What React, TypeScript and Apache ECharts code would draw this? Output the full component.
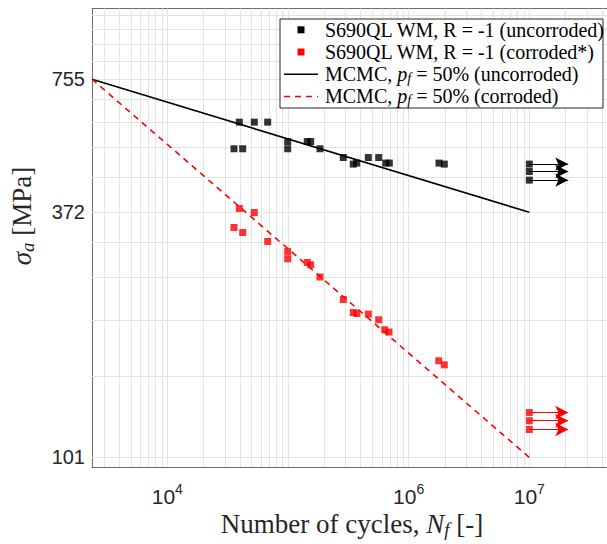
import React, { useEffect, useRef } from "react";
import * as echarts from "echarts";

// ---- data ----
const uncorrodedN = [35700, 39500, 42150, 52600, 67900, 99500, 99500, 144500, 154200, 184200, 287400, 347800, 371200, 463200, 564800, 645700, 691500, 1785000, 1975000];
const uncorrodedS = [521.6, 601, 521.6, 601, 601, 542, 521.6, 542, 542, 521.6, 497.9, 480.8, 483.4, 497.9, 497.9, 483.4, 483.4, 483.4, 480.8];
const corrodedN = [35700, 39500, 42150, 52600, 67900, 99500, 99500, 144500, 154200, 184200, 287400, 347800, 371200, 463200, 564800, 633300, 687600, 1775000, 1975000];
const corrodedS = [343.2, 379.7, 334.2, 371.7, 318.6, 302.1, 290.6, 284.9, 281.4, 263.7, 234, 218.3, 217.2, 216.5, 210.1, 199.2, 196.8, 168.9, 165.3];
const runoutN = 10000000;
const uncorrodedRunoutS = [480.8, 462.2, 441.5];
const corrodedRunoutS = [128.3, 122.8, 117.2];
const runoutArrowEndN = 21000000;
const mcmcN = [2377, 10000000];
const mcmcUncorrodedS = [755, 372];
const mcmcCorrodedS = [755, 101];

// ---- axes ----
const xMin = 2377;
const xMax = 44040000;
const yMin = 96;
const yMax = 1100;
const xTickLabels = [10000, 1000000, 10000000];
const xGridValues = [
  3000, 4000, 5000, 6000, 7000, 8000, 9000,
  10000, 20000, 30000, 40000, 50000, 60000, 70000, 80000, 90000,
  100000, 200000, 300000, 400000, 500000, 600000, 700000, 800000, 900000,
  1000000, 2000000, 3000000, 4000000, 5000000, 6000000, 7000000, 8000000, 9000000,
  10000000, 20000000, 30000000, 40000000,
];
const yTickLabels = [101, 372, 755];
const yGridValues = [101, 155.2, 209.4, 263.6, 317.8, 372, 448.6, 525.2, 601.8, 678.4, 755, 831.6, 908.2, 984.8, 1061.4];

const legendItems = [
  { kind: "square", color: "#000000", text: "S690QL WM, R = -1 (uncorroded)" },
  { kind: "square", color: "#ff0000", text: "S690QL WM, R = -1 (corroded*)" },
  { kind: "solid", color: "#000000", text: "MCMC, {i|p}{sub|f} = 50% (uncorroded)" },
  { kind: "dashed", color: "#ff0000", text: "MCMC, {i|p}{sub|f} = 50% (corroded)" },
];

const SERIF = "'Liberation Serif', 'DejaVu Serif', serif";
const SANS = "'Liberation Sans', Arial, Helvetica, sans-serif";

export default function App() {
  const ref = useRef<HTMLDivElement>(null);

  useEffect(() => {
    if (!ref.current) return;
    const chart = echarts.init(ref.current, null, { renderer: "svg" });
    const axisColor = "#6b6b6b";
    const gridColor = "#e3e3e3";
    const labelColor = "#262626";

    const xBase: any = {
      type: "log",
      logBase: 10,
      min: xMin,
      max: xMax,
      axisLine: { show: true, onZero: false, lineStyle: { color: axisColor, width: 1 } },
      splitLine: { show: false },
      minorTick: { show: false },
      minorSplitLine: { show: false },
    };
    const yBase: any = {
      type: "log",
      logBase: 10,
      min: yMin,
      max: yMax,
      axisLine: { show: true, onZero: false, lineStyle: { color: axisColor, width: 1 } },
      splitLine: { show: false },
      minorTick: { show: false },
      minorSplitLine: { show: false },
    };

    const LFS = 20;
    const legendX = 280;
    const legendY = 19;
    const rowY = [29.8, 52, 74.2, 96.4];
    const legendGraphics: any[] = [
      {
        type: "rect",
        shape: { x: legendX, y: legendY, width: 323, height: 89 },
        style: { fill: "#ffffff", stroke: "#262626", lineWidth: 1 },
        z: 100,
      },
    ];
    legendItems.forEach((it, i) => {
      const y = rowY[i];
      if (it.kind === "square") {
        legendGraphics.push({
          type: "rect",
          shape: { x: 301 - 3.5, y: y - 3.5, width: 7, height: 7 },
          style: { fill: it.color },
          z: 101,
        });
      } else {
        legendGraphics.push({
          type: "line",
          shape: { x1: 284, y1: y, x2: 318, y2: y },
          style: { stroke: it.color, lineWidth: 1.5, lineDash: it.kind === "dashed" ? [6, 5] : null },
          z: 101,
        });
      }
      legendGraphics.push({
        type: "text",
        x: 325,
        y: y,
        z: 101,
        style: {
          text: it.text,
          fill: "#000000",
          fontSize: LFS,
          fontFamily: SERIF,
          lineHeight: 22,
          align: "left",
          verticalAlign: "middle",
          rich: {
            i: { fontSize: LFS, fontFamily: SERIF, fontStyle: "italic", lineHeight: 22 },
            sub: { fontSize: 14, fontFamily: SERIF, fontStyle: "italic", lineHeight: 14, verticalAlign: "bottom" },
          },
        },
      });
    });

    const gridLines = [
      ...xGridValues.map((v) => ({ xAxis: v })),
      ...yGridValues.map((v) => ({ yAxis: v })),
    ];

    const arrowLines = (vals: number[]) =>
      vals.map((s) => [{ coord: [runoutN, s] }, { coord: [runoutArrowEndN, s] }]);

    const titleRich = {
      t: { fontSize: 27, fontFamily: SERIF, fill: "#262626", lineHeight: 30 },
      i: { fontSize: 27, fontFamily: SERIF, fontStyle: "italic", fill: "#262626", lineHeight: 30 },
      sub: { fontSize: 19, fontFamily: SERIF, fontStyle: "italic", fill: "#262626", lineHeight: 18, verticalAlign: "bottom" },
    };

    const option: any = {
      animation: false,
      grid: { left: 92, top: 8.5, right: 0, height: 458.5 },
      xAxis: [
        {
          ...xBase,
          position: "bottom",
          axisTick: { show: true, inside: true, length: 4, customValues: xGridValues, lineStyle: { color: axisColor } },
          axisLabel: {
            show: true,
            customValues: xTickLabels,
            margin: 15,
            formatter: (v: number) => `{b|10}{s|${Math.round(Math.log10(v))}}`,
            rich: {
              b: { fontSize: 21, fontFamily: SANS, color: labelColor, lineHeight: 28 },
              s: { fontSize: 14, fontFamily: SANS, color: labelColor, lineHeight: 12, verticalAlign: "top" },
            },
          },
        },
        {
          ...xBase,
          position: "top",
          axisTick: { show: true, inside: true, length: 4, customValues: xGridValues, lineStyle: { color: axisColor } },
          axisLabel: { show: false },
        },
      ],
      yAxis: [
        {
          ...yBase,
          position: "left",
          axisTick: { show: true, inside: true, length: 4, customValues: yGridValues, lineStyle: { color: axisColor } },
          axisLabel: {
            show: true,
            customValues: yTickLabels,
            margin: 7,
            fontSize: 20,
            fontFamily: SANS,
            color: labelColor,
            formatter: (v: number) => `${Math.round(v)}`,
          },
        },
      ],
      series: [
        {
          type: "line",
          data: [],
          silent: true,
          z: 1,
          markLine: {
            z: 1,
            silent: true,
            symbol: ["none", "none"],
            label: { show: false },
            lineStyle: { color: gridColor, width: 1, type: "solid" },
            emphasis: { disabled: true },
            data: gridLines,
          },
        },
        {
          name: "MCMC uncorroded",
          type: "line",
          data: mcmcN.map((n, i) => [n, mcmcUncorrodedS[i]]),
          symbol: "none",
          lineStyle: { color: "#000000", width: 1.6 },
          z: 3,
        },
        {
          name: "MCMC corroded",
          type: "line",
          data: mcmcN.map((n, i) => [n, mcmcCorrodedS[i]]),
          symbol: "none",
          lineStyle: { color: "#ff0000", width: 1.6, type: [6, 5] },
          z: 3,
        },
        {
          name: "uncorroded",
          type: "scatter",
          symbol: "rect",
          symbolSize: 7,
          itemStyle: { color: "#000000" },
          data: [
            ...uncorrodedN.map((n, i) => [n, uncorrodedS[i]]),
            ...uncorrodedRunoutS.map((s) => [runoutN, s]),
          ],
          z: 4,
        },
        {
          name: "corroded",
          type: "scatter",
          symbol: "rect",
          symbolSize: 7,
          itemStyle: { color: "#ff0000" },
          data: [
            ...corrodedN.map((n, i) => [n, corrodedS[i]]),
            ...corrodedRunoutS.map((s) => [runoutN, s]),
          ],
          z: 4,
        },
        {
          type: "line",
          data: [],
          silent: true,
          z: 3,
          markLine: {
            z: 3,
            silent: true,
            symbol: ["none", "arrow"],
            symbolSize: [10, 13],
            label: { show: false },
            lineStyle: { color: "#000000", width: 1, type: "solid" },
            emphasis: { disabled: true },
            data: arrowLines(uncorrodedRunoutS),
          },
        },
        {
          type: "line",
          data: [],
          silent: true,
          z: 3,
          markLine: {
            z: 3,
            silent: true,
            symbol: ["none", "arrow"],
            symbolSize: [10, 13],
            label: { show: false },
            lineStyle: { color: "#ff0000", width: 1, type: "solid" },
            emphasis: { disabled: true },
            data: arrowLines(corrodedRunoutS),
          },
        },
      ],
      graphic: [
        ...legendGraphics,
        {
          type: "text",
          x: 352,
          y: 524,
          style: {
            text: "{t|Number of cycles, }{i|N}{sub|f}{t| [-]}",
            align: "center",
            verticalAlign: "middle",
            rich: titleRich,
          },
        },
        {
          type: "text",
          x: 22,
          y: 216,
          rotation: Math.PI / 2,
          style: {
            text: "{i|σ}{sub|a}{t| [MPa]}",
            align: "center",
            verticalAlign: "middle",
            rich: titleRich,
          },
        },
      ],
    };

    chart.setOption(option);
    return () => chart.dispose();
  }, []);

  return (
    <div
      ref={ref}
      style={{ position: "absolute", left: 0, top: 0, width: 607, height: 544, background: "#ffffff" }}
    />
  );
}
